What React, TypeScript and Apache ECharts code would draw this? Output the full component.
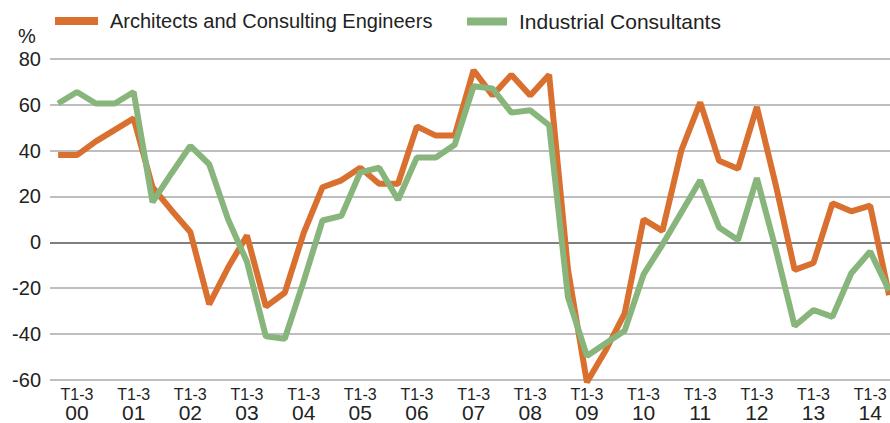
import React, { useEffect, useRef } from "react";
import * as echarts from "echarts";

const yearLabels = ["00", "01", "02", "03", "04", "05", "06", "07", "08", "09", "10", "11", "12", "13", "14"];
const periodLabel = "T1-3";
const seriesNames = ["Architects and Consulting Engineers", "Industrial Consultants"];

const architects = [
  38, 38, 44, 49, 54,
  24, 14, 4.5, -27, -11,
  3, -28, -22, 4, 24,
  27, 32.5, 25.5, 25.5, 50.5,
  46.5, 46.5, 75, 64, 73,
  64, 73, -12, -61, -47,
  -31, 10, 5, 40, 61,
  35.5, 32, 59, 25, -12,
  -9, 17, 13.5, 16, -23,
];

const industrial = [
  60.5, 65.5, 60.5, 60.5, 65.5,
  17.5, 30, 42, 34, 10,
  -8.5, -41, -42, -17, 9.5,
  11.5, 30.5, 32.5, 18.5, 37,
  37, 42.5, 68, 67, 56.5,
  57.5, 51, -24, -49.5, -44,
  -38.5, -14, -1, 13, 27,
  6.5, 1, 28, -3, -36.5,
  -29.5, -32.5, -13.5, -4, -21,
];

const FONT = "'Liberation Sans', Arial, Helvetica, sans-serif";
const ORANGE = "#D97030";
const GREEN = "#88B57B";

export default function App() {
  const ref = useRef<HTMLDivElement>(null);

  useEffect(() => {
    if (!ref.current) return;
    const chart = echarts.init(ref.current, null, { renderer: "svg" });
    const orangeData = architects.map((v, i) => [i, v]);
    const greenData = industrial.map((v, i) => [i, v]);
    const labelPositions = yearLabels.map((_, i) => i * 3 + 1);

    chart.setOption({
      animation: false,
      backgroundColor: "#ffffff",
      textStyle: { fontFamily: FONT },
      legend: [
        {
          data: [seriesNames[0]],
          left: 50,
          top: 6,
          icon: "rect",
          itemWidth: 43,
          itemHeight: 8,
          textStyle: { fontSize: 20, color: "#222", fontFamily: FONT, padding: [0, 0, 0, 7] },
        },
        {
          data: [seriesNames[1]],
          left: 462,
          top: 6,
          icon: "rect",
          itemWidth: 40,
          itemHeight: 8,
          textStyle: { fontSize: 21, color: "#222", fontFamily: FONT, padding: [0, 0, 0, 7] },
        },
      ],
      graphic: [
        {
          type: "text",
          left: 18,
          top: 26,
          style: { text: "%", fontSize: 20, fill: "#222", fontFamily: FONT },
        },
      ],
      grid: { left: 50, right: 0, top: 58.7, bottom: 40, containLabel: false },
      xAxis: {
        type: "value",
        min: -0.43,
        max: 44.05,
        axisLine: { show: false },
        axisTick: { show: false },
        splitLine: { show: false },
        axisLabel: {
          customValues: labelPositions,
          margin: 6,
          formatter: (v: number) => {
            const idx = Math.round((v - 1) / 3);
            return `{t|${periodLabel}}\n{y|${yearLabels[idx] ?? ""}}`;
          },
          rich: {
            t: { fontSize: 16, lineHeight: 17, color: "#222", fontFamily: FONT, align: "center" },
            y: { fontSize: 21, lineHeight: 19, color: "#222", fontFamily: FONT, align: "center" },
          },
        },
      },
      yAxis: {
        type: "value",
        min: -60,
        max: 80,
        interval: 20,
        axisLine: { show: false },
        axisTick: { show: false },
        axisLabel: { fontSize: 20, color: "#222", margin: 9, fontFamily: FONT },
        splitLine: {
          lineStyle: {
            color: ["#a8a8a8", "#a8a8a8", "#a8a8a8", "#555555", "#a8a8a8", "#a8a8a8", "#a8a8a8", "#a8a8a8"],
            width: 1.5,
          },
        },
      },
      series: [
        {
          name: seriesNames[0],
          type: "line",
          data: orangeData,
          showSymbol: false,
          clip: false,
          lineStyle: { color: ORANGE, width: 6 },
          itemStyle: { color: ORANGE },
        },
        {
          name: seriesNames[1],
          type: "line",
          data: greenData,
          showSymbol: false,
          clip: false,
          lineStyle: { color: GREEN, width: 6 },
          itemStyle: { color: GREEN },
        },
      ],
    });
    return () => chart.dispose();
  }, []);

  return (
    <div
      ref={ref}
      style={{ position: "absolute", left: 0, top: 0, width: 890, height: 423 }}
    />
  );
}
